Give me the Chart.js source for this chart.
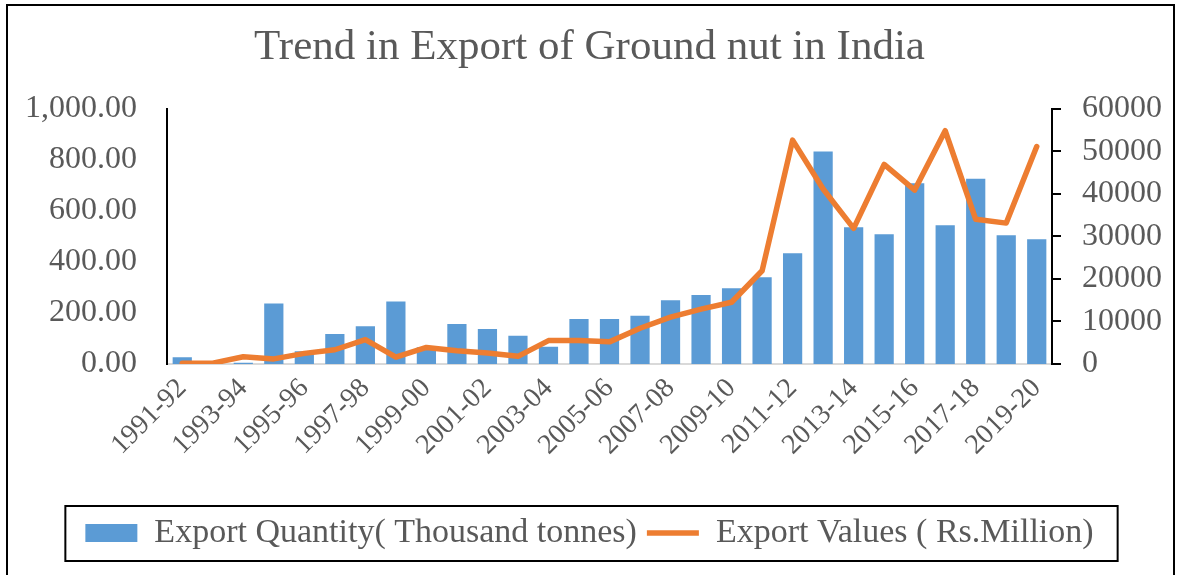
<!DOCTYPE html>
<html>
<head>
<meta charset="utf-8">
<script src="https://cdn.jsdelivr.net/npm/chart.js@4/dist/chart.umd.min.js"></script>
<style>
  html, body { margin: 0; padding: 0; background: #fff; }
  #wrap { width: 1179px; height: 575px; position: relative; }
</style>
</head>
<body>
<div id="wrap"><canvas id="exportChart" width="1179" height="575"></canvas></div>
<script>
const years = ["1991-92", "1992-93", "1993-94", "1994-95", "1995-96", "1996-97", "1997-98", "1998-99",
  "1999-00", "2000-01", "2001-02", "2002-03", "2003-04", "2004-05", "2005-06", "2006-07", "2007-08",
  "2008-09", "2009-10", "2010-11", "2011-12", "2012-13", "2013-14", "2014-15", "2015-16", "2016-17",
  "2017-18", "2018-19", "2019-20"];

// thousand tonnes
const exportQty = [26, 2, 5, 237, 50, 117, 148, 245, 66, 157, 137, 111, 68, 176, 176, 189, 250,
  270, 297, 340, 434, 832, 535, 508, 708, 543, 725, 504, 488];

// Rs. million
const exportVal = [200, 200, 1700, 1200, 2500, 3350, 5700, 1600, 3900, 3100, 2600, 1800, 5500, 5500,
  5200, 8400, 11000, 12900, 14500, 21900, 52600, 41100, 31850, 46900, 40850, 54800, 34000, 33100, 51100];

const qtyTicks = [0, 200, 400, 600, 800, 1000];
const valTicks = [0, 10000, 20000, 30000, 40000, 50000, 60000];

const grey = "#595959";
const serif = "'Liberation Serif', 'Times New Roman', serif";

// white background, outer frame and the box round the legend
const frame = {
  id: "frame",
  beforeDraw(chart) {
    const c = chart.ctx;
    c.save();
    c.fillStyle = "#fff";
    c.fillRect(0, 0, chart.width, chart.height);
    c.strokeStyle = "#000";
    c.lineWidth = 2;
    c.strokeRect(7, 5, 1167, 620);
    c.restore();
  },
  afterDraw(chart) {
    const lg = chart.legend;
    if (!lg || !lg.legendHitBoxes.length) return;
    const boxes = lg.legendHitBoxes;
    const first = boxes[0], last = boxes[boxes.length - 1];
    const c = chart.ctx;
    c.save();
    c.strokeStyle = "#000";
    c.lineWidth = 2;
    c.strokeRect(first.left - 20, first.top - 10, last.left + last.width - first.left + 44, 55);
    c.restore();
  }
};

new Chart(document.getElementById("exportChart"), {
  data: {
    labels: years,
    datasets: [
      {
        type: "bar",
        label: "Export Quantity( Thousand tonnes)",
        data: exportQty,
        yAxisID: "y",
        backgroundColor: "#5B9BD5",
        borderWidth: 0,
        categoryPercentage: 1,
        barPercentage: 0.63,
        pointStyle: "rect",
        order: 2
      },
      {
        type: "line",
        label: "Export Values ( Rs.Million)",
        data: exportVal,
        yAxisID: "y1",
        borderColor: "#ED7D31",
        backgroundColor: "#ED7D31",
        borderWidth: 5.5,
        borderCapStyle: "round",
        borderJoinStyle: "round",
        pointRadius: 0,
        pointStyle: "line",
        tension: 0,
        order: 1
      }
    ]
  },
  options: {
    responsive: false,
    animation: false,
    layout: { padding: { top: 0, bottom: 15, left: 0, right: 0 } },
    plugins: {
      title: {
        display: true,
        text: "Trend in Export of Ground nut in India",
        color: grey,
        font: { family: serif, size: 43, weight: "normal" },
        padding: { top: 22, bottom: 35 }
      },
      legend: {
        position: "bottom",
        labels: {
          usePointStyle: true,
          pointStyleWidth: 52,
          boxHeight: 18,
          padding: 10,
          color: grey,
          font: { family: serif, size: 34 },
          sort: (a, b) => a.datasetIndex - b.datasetIndex
        }
      },
      tooltip: { enabled: false }
    },
    scales: {
      x: {
        grid: { display: false },
        border: { display: true, color: "#d9d9d9", width: 2 },
        afterFit: s => { s.height = 142; },
        ticks: {
          autoSkip: false,
          maxRotation: 45,
          minRotation: 45,
          padding: 0,
          color: grey,
          font: { family: serif, size: 28 },
          callback: (v, i) => (i % 2 === 0 ? years[i] : "")
        }
      },
      y: {
        position: "left",
        min: 0,
        max: 1000,
        afterFit: s => { s.width = 167; },
        afterBuildTicks: s => { s.ticks = qtyTicks.map(v => ({ value: v })); },
        grid: { display: false, drawTicks: false },
        border: { display: true, color: "#000", width: 2 },
        ticks: {
          padding: 30,
          color: grey,
          font: { family: serif, size: 32 },
          callback: v => v.toLocaleString("en-US", { minimumFractionDigits: 2, maximumFractionDigits: 2 })
        }
      },
      y1: {
        position: "right",
        min: 0,
        max: 60000,
        afterFit: s => { s.width = 127; },
        afterBuildTicks: s => { s.ticks = valTicks.map(v => ({ value: v })); },
        grid: { drawOnChartArea: false, drawTicks: true, tickLength: 9, color: "#000", lineWidth: 2 },
        border: { display: true, color: "#000", width: 2 },
        ticks: {
          padding: 21,
          color: grey,
          font: { family: serif, size: 32 },
          callback: v => String(v)
        }
      }
    }
  },
  plugins: [frame]
});
</script>
</body>
</html>
